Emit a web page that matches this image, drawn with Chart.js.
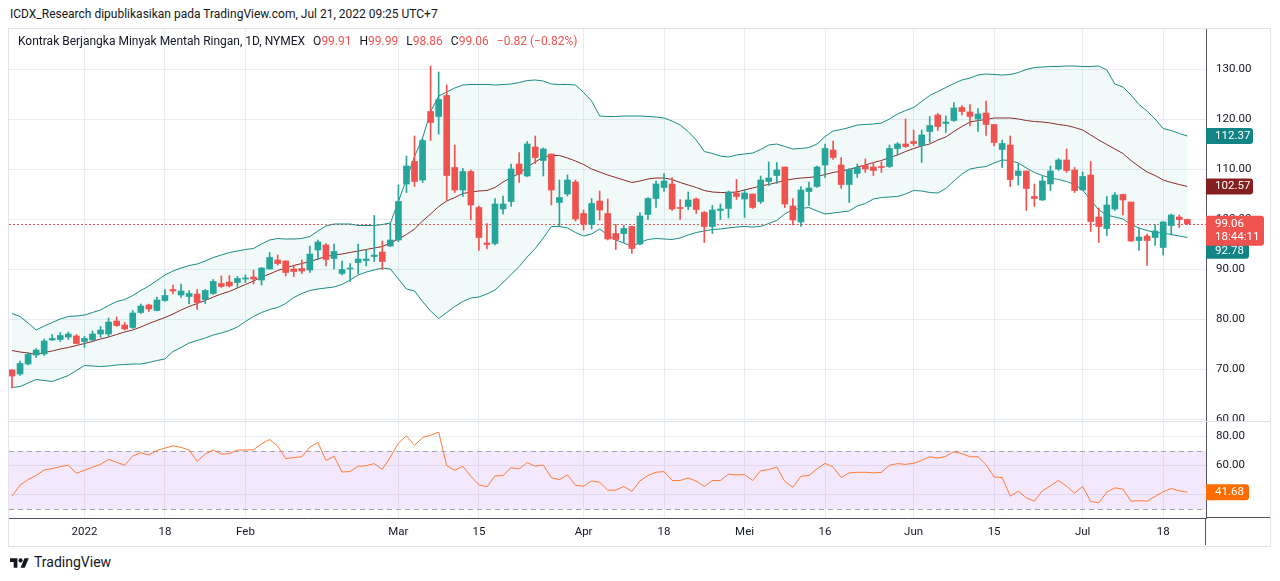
<!DOCTYPE html>
<html>
<head>
<meta charset="utf-8">
<title>Kontrak Berjangka Minyak Mentah Ringan, 1D, NYMEX</title>
<script src="https://cdn.jsdelivr.net/npm/chart.js@4.4.1/dist/chart.umd.min.js"></script>
<style>
  html, body { margin: 0; padding: 0; background: #fff; }
  body { width: 1280px; height: 581px; position: relative; overflow: hidden;
         font-family: Roboto, "Noto Sans", sans-serif; color: #131722; }
  #top { position: absolute; left: 10px; top: 7px; font-size: 12px; white-space: nowrap; }
  #frame { position: absolute; left: 8px; top: 28px; width: 1263px; height: 519px;
           box-sizing: border-box; border: 1px solid #e0e3eb; }
  #wrap { position: absolute; left: 9px; top: 29px; width: 1261px; height: 516px; }
  #legend { position: absolute; left: 18px; top: 34px; font-size: 12px; white-space: nowrap; }
  #legend .v { color: #ef5350; }
  #legend .k { margin-left: 8px; }
  #foot { position: absolute; left: 10px; top: 554px; font-size: 14px; display: flex; align-items: center; }
  #foot svg { margin-right: 5px; }
</style>
</head>
<body>
<div id="top">ICDX_Research dipublikasikan pada TradingView.com, Jul 21, 2022 09:25 UTC+7</div>
<div id="frame"></div>
<div id="wrap"><canvas id="chart" width="1261" height="516"></canvas></div>
<div id="legend"></div>
<div id="foot">
  <svg width="19" height="13" viewBox="0 0 36 24"><path fill="#131722" d="M14 22H7V11H0V4h14v18zM28 22h-8l7.5-18h8L28 22z"/><circle fill="#131722" cx="20" cy="8" r="4"/></svg>
  <span>TradingView</span>
</div>

<script>
const UP = '#26a69a', DOWN = '#ef5350';

// daily candles, 20 Dec 2021 .. 21 Jul 2022 (index = trading day)
const opens = [69.8,69.0,71.0,72.8,73.0,75.8,75.9,76.4,76.6,75.5,
  75.8,77.0,77.0,79.6,78.8,78.3,81.3,82.8,81.7,83.7,
  85.9,84.8,84.5,85.0,83.9,85.1,87.1,87.4,87.3,88.0,
  88.4,87.8,90.0,91.8,91.6,90.0,90.1,89.8,93.8,94.8,
  92.1,89.1,90.0,91.3,91.7,92.5,93.4,94.6,95.8,107.0,
  111.5,107.8,121.5,120.5,124.7,110.3,105.8,109.5,102.3,95.2,
  95.1,102.0,103.5,111.0,108.6,114.4,111.7,113.0,103.3,105.0,
  107.4,101.1,98.9,103.6,101.1,97.1,97.1,98.5,95.0,100.9,
  104.1,106.3,107.0,102.3,102.5,104.0,101.3,98.5,101.7,102.1,
  105.2,104.0,105.0,103.5,107.5,108.7,110.4,102.6,99.4,105.5,
  106.5,110.8,113.8,110.8,106.9,109.1,110.7,110.4,110.4,110.5,
  114.1,115.0,115.5,114.7,117.5,120.8,119.1,119.7,122.3,121.4,
  120.0,121.2,118.9,113.9,114.8,108.7,109.6,104.5,103.8,107.0,
  110.0,111.8,109.8,105.8,108.8,100.4,98.1,102.0,104.9,103.4,
  95.7,96.6,96.3,94.3,98.7,100.4,99.91];
const highs = [69.9,71.6,73.3,74.1,76.0,76.9,77.3,77.4,76.9,76.5,
  77.6,78.5,80.2,80.4,79.3,81.7,83.0,83.0,84.4,85.9,
  86.8,87.0,85.7,85.9,85.9,87.9,88.6,88.7,88.5,88.8,
  89.8,90.3,93.3,92.8,91.6,90.8,91.8,94.6,95.8,95.1,
  95.0,91.6,91.1,95.0,93.8,100.7,95.6,99.1,106.8,112.6,
  116.6,116.0,130.6,129.4,126.8,114.8,110.1,109.8,102.6,99.1,
  104.1,104.6,111.0,113.3,115.5,116.6,114.2,113.0,107.8,108.8,
  107.8,101.8,104.1,105.6,104.0,98.9,98.7,98.6,101.3,104.3,
  107.6,109.1,108.3,103.9,105.4,104.2,101.5,102.7,103.0,105.6,
  107.9,105.9,105.0,108.6,111.4,111.3,110.4,104.1,106.5,107.4,
  110.6,115.0,115.6,112.3,110.1,111.0,112.0,111.3,111.4,114.8,
  115.3,120.0,117.8,117.8,120.5,121.1,120.6,123.3,122.7,122.9,
  122.1,123.6,118.9,115.8,116.6,111.1,109.6,107.0,108.5,110.6,
  112.1,114.0,110.3,109.4,111.5,102.2,104.5,105.3,105.0,103.4,
  98.1,97.0,98.9,99.5,101.0,100.8,99.99];
const lows = [66.2,68.7,70.8,72.3,72.7,75.7,75.5,75.9,75.0,74.3,
  75.6,76.3,76.5,78.5,77.8,78.1,81.1,81.5,81.6,83.5,
  85.0,84.3,83.0,81.9,83.1,84.9,86.3,86.4,86.3,87.3,
  87.0,86.8,90.0,90.8,88.6,88.5,89.1,89.3,91.8,90.6,
  90.0,88.8,87.5,89.0,90.6,91.5,89.9,94.5,95.5,105.3,
  106.5,107.3,115.7,117.0,103.7,105.3,104.5,99.8,93.7,94.0,
  94.8,101.0,102.5,107.3,108.5,111.1,108.6,102.8,98.5,104.6,
  99.6,97.8,98.0,99.8,95.8,93.9,95.3,93.1,94.8,99.9,
  102.3,105.5,101.7,99.9,101.9,101.1,95.3,97.1,99.9,100.2,
  103.9,100.3,102.1,103.1,106.7,107.1,102.3,98.8,98.5,102.7,
  106.3,108.3,111.9,106.1,103.3,108.3,109.3,108.7,109.3,110.3,
  112.8,114.3,114.7,111.3,115.3,117.7,117.3,119.5,120.8,118.6,
  117.5,116.7,114.6,110.3,106.5,106.8,101.7,102.5,103.7,105.7,
  109.7,109.3,105.3,105.7,97.5,95.3,96.7,101.7,100.8,95.5,
  93.7,90.7,94.7,92.8,96.8,98.3,98.86];
const closes = [68.6,71.1,72.9,73.8,75.6,76.1,76.7,77.0,75.1,76.1,
  77.0,77.8,79.4,78.7,78.0,81.2,82.6,82.0,83.8,84.7,
  85.6,85.6,85.1,83.3,85.7,87.5,86.5,86.6,88.1,88.2,
  88.0,90.2,92.3,91.1,89.3,89.5,89.6,93.0,95.4,91.9,
  93.5,89.9,90.2,92.0,92.0,92.8,91.5,95.8,103.5,110.6,
  107.5,115.7,119.3,123.9,108.7,105.8,109.5,102.8,96.3,94.9,
  103.0,103.0,110.0,109.0,115.0,112.3,114.0,105.8,104.3,107.8,
  100.0,99.0,103.1,101.8,96.0,95.9,98.1,94.1,100.6,104.1,
  107.0,107.6,102.0,102.1,103.8,101.9,98.5,101.8,102.0,105.4,
  104.5,105.2,102.3,107.8,108.2,109.8,103.0,99.8,105.8,106.2,
  110.4,114.1,112.3,106.9,109.9,110.3,110.0,109.7,110.3,114.1,
  115.0,114.5,115.1,116.8,118.7,118.5,119.4,122.2,121.5,120.5,
  121.0,118.9,115.3,115.1,107.9,109.6,106.1,104.1,107.6,109.6,
  111.8,109.7,105.7,108.5,99.5,98.5,102.8,104.8,103.8,95.6,
  96.4,95.7,97.6,99.4,100.8,99.88,99.06];

// Bollinger bands
const bbUpper = [81.1,80.5,79.2,77.8,78.6,79.3,80.0,80.5,80.6,80.8,
  81.3,81.8,82.7,83.5,83.9,84.7,85.7,86.6,87.7,88.8,
  89.6,90.2,90.7,91.0,91.6,92.3,92.8,93.3,93.6,93.9,
  94.1,95.0,95.8,96.1,96.0,96.0,96.1,96.5,97.6,98.6,
  99.0,99.0,99.0,98.7,98.7,98.7,98.9,99.2,103.5,108.0,
  112.5,116.2,121.5,124.6,125.4,126.2,126.8,126.9,126.9,126.9,
  126.8,126.9,127.0,127.3,127.7,127.8,127.6,127.0,126.9,126.9,
  126.8,125.3,123.6,120.6,120.5,120.5,120.6,120.6,120.6,120.5,
  120.4,120.2,119.6,118.8,117.5,115.8,113.5,113.1,112.6,112.4,
  112.8,113.0,113.2,113.9,114.8,115.0,114.5,114.0,114.1,114.3,
  115.0,116.5,117.6,117.9,118.3,118.8,118.9,119.0,119.2,120.0,
  121.0,121.7,122.3,123.5,124.7,125.5,126.3,127.1,127.8,128.2,
  128.8,129.0,128.9,128.8,128.9,129.3,129.9,130.3,130.4,130.5,
  130.5,130.6,130.6,130.5,130.5,130.6,129.8,127.0,126.4,124.8,
  122.9,121.6,120.0,118.1,117.7,117.1,116.6];
const bbBasis = [73.7,73.4,73.2,72.9,73.3,73.6,74.0,74.3,74.7,75.1,
  75.5,76.0,76.4,76.9,77.4,77.8,78.4,79.1,79.7,80.3,
  81.0,81.8,82.5,83.1,83.7,84.4,85.0,85.5,86.2,86.9,
  87.6,88.4,89.0,89.7,90.2,90.7,91.1,91.5,92.0,92.5,
  92.8,93.0,93.3,93.6,93.9,94.2,94.5,95.2,96.0,96.9,
  98.0,99.6,101.0,102.5,103.6,104.3,105.1,105.4,105.6,105.7,
  106.3,107.4,108.3,109.1,110.4,111.4,112.4,112.7,112.7,112.2,
  111.6,110.9,110.0,109.4,108.8,108.3,107.8,107.3,107.6,108.0,
  108.2,108.2,107.9,107.3,106.8,106.3,105.7,105.4,105.3,105.3,
  105.4,105.8,106.2,106.6,106.9,107.3,107.7,108.0,108.2,108.3,
  108.5,108.9,109.3,109.6,109.9,110.4,110.8,111.3,111.7,112.3,
  112.8,113.5,114.1,114.6,115.0,115.8,116.4,117.5,118.5,119.4,
  119.7,119.9,120.2,120.2,120.2,120.0,119.7,119.5,119.4,119.2,
  118.9,118.7,118.3,117.8,116.8,115.8,114.9,114.0,113.1,111.7,
  110.5,109.4,108.7,107.8,107.3,106.9,106.5];
const bbLower = [66.3,66.5,67.2,67.9,67.7,67.5,68.1,68.7,69.7,70.7,
  70.6,70.5,70.6,70.8,70.9,71.0,71.0,71.3,71.7,72.0,
  73.5,74.3,75.2,75.7,76.2,76.8,77.2,77.7,78.4,79.5,
  80.5,81.3,81.9,82.3,83.1,84.3,85.1,85.7,86.0,86.2,
  86.4,86.9,87.8,88.8,89.4,89.8,90.2,90.0,88.0,86.0,
  85.6,83.5,81.6,80.1,81.3,82.5,83.5,84.2,84.4,85.0,
  85.8,87.3,88.9,90.5,92.4,94.1,96.2,98.5,98.5,98.2,
  97.3,96.6,97.0,98.0,96.8,95.8,95.2,94.5,95.3,95.9,
  96.1,96.0,95.9,96.2,96.8,97.3,97.6,97.9,98.0,98.2,
  98.4,98.5,98.4,98.5,99.1,99.7,101.0,101.9,102.1,102.3,
  101.6,101.0,101.2,101.4,101.6,102.6,103.1,104.0,104.3,104.4,
  104.5,105.0,105.7,105.6,105.3,105.2,106.1,107.6,109.0,110.0,
  110.3,110.5,111.2,111.8,111.7,111.2,110.2,109.3,108.7,108.2,
  107.9,107.5,106.9,105.8,103.8,101.8,100.8,100.4,100.0,98.9,
  98.2,97.7,97.3,97.2,96.9,96.6,96.3];

const rsi = [39.0,46.5,50.3,53.1,56.9,57.8,59.2,60.1,54.6,56.7,
  58.7,60.7,64.1,62.1,60.1,66.4,68.6,67.1,70.2,71.8,
  73.4,72.3,70.5,62.8,67.7,70.5,67.7,68.0,70.5,70.5,
  70.7,74.7,77.7,73.2,64.6,65.3,65.9,72.5,75.6,63.4,
  66.2,55.5,55.8,59.4,59.8,61.2,57.3,65.7,75.2,80.2,
  73.6,79.1,80.6,82.7,59.8,56.7,59.4,52.6,46.7,45.4,
  52.8,53.1,58.5,57.6,61.9,59.4,60.3,51.6,50.3,53.5,
  46.5,45.8,49.4,48.5,43.1,43.1,45.6,42.2,49.4,53.1,
  55.3,55.8,49.7,49.7,51.5,49.2,45.6,49.7,49.7,54.0,
  53.5,53.7,49.7,56.4,57.1,58.9,49.0,45.1,52.6,53.1,
  57.6,61.4,58.9,51.7,54.9,55.3,55.3,54.9,55.3,60.1,
  61.2,60.7,61.4,63.4,65.9,65.0,66.2,69.3,68.0,65.9,
  65.9,60.5,52.1,51.7,39.0,42.4,37.9,35.6,42.7,46.0,
  49.7,45.8,41.1,45.6,35.4,34.5,41.8,44.7,43.8,35.6,
  35.9,35.6,38.8,42.0,44.2,42.7,41.68];

const dateTickIdx = [9, 19, 29, 48, 58, 71, 81, 91, 101, 112, 122, 133, 143];
const dateTickText = ['2022', '18', 'Feb', 'Mar', '15', 'Apr', '18', 'Mei', '16', 'Jun', '15', 'Jul', '18'];
const priceTicks = [60, 70, 80, 90, 100, 110, 120, 130];
const rsiTicks = [40, 60, 80];
const rsiBand = [70, 30];
const bbTags = ['112.37', '102.57', '92.78'];
const countdown = '18:44:11';

const last = closes.length - 1;
const idx = closes.map((c, i) => i);
const candleColor = idx.map(i => closes[i] >= opens[i] ? UP : DOWN);

function fmt(v) { return v.toFixed(2).replace('-', '\u2212'); }

// legend line
(function () {
  var chg = closes[last] - closes[last - 1];
  var pct = chg / closes[last - 1] * 100;
  var html = '<span>Kontrak Berjangka Minyak Mentah Ringan, 1D, NYMEX</span>';
  html += '<span class="k">O</span><span class="v">' + fmt(opens[last]) + '</span>';
  html += '<span class="k">H</span><span class="v">' + fmt(highs[last]) + '</span>';
  html += '<span class="k">L</span><span class="v">' + fmt(lows[last]) + '</span>';
  html += '<span class="k">C</span><span class="v">' + fmt(closes[last]) + '</span>';
  html += '<span class="k v">' + fmt(chg) + ' (' + fmt(pct) + '%)</span>';
  document.getElementById('legend').innerHTML = html;
})();

function tag(c, x, yc, w, h, bg, lines) {
  c.fillStyle = bg;
  c.beginPath();
  c.roundRect(x, yc - h / 2, w, h, [0, 3, 3, 0]);
  c.fill();
  c.fillStyle = '#fff';
  c.textBaseline = 'middle';
  c.textAlign = 'left';
  c.font = '11.5px Roboto';
  lines.forEach((t, k) => c.fillText(t, x + 9, yc - (lines.length - 1) * 6.5 + k * 13));
}

const panes = {
  id: 'panes',
  beforeDatasetsDraw(chart) {
    const c = chart.ctx, a = chart.chartArea, r = chart.scales.yRsi, y = chart.scales.y;
    const t = r.getPixelForValue(rsiBand[0]), b = r.getPixelForValue(rsiBand[1]);
    c.save();
    c.fillStyle = 'rgba(180,100,240,0.15)';
    c.fillRect(a.left, t, a.right - a.left, b - t);
    c.strokeStyle = '#a3a6af';
    c.lineWidth = 1;
    c.setLineDash([5, 4]);
    rsiBand.forEach(v => {
      const py = Math.round(r.getPixelForValue(v)) + 0.5;
      c.beginPath(); c.moveTo(a.left, py); c.lineTo(a.right, py); c.stroke();
    });
    // last price
    const py = Math.round(y.getPixelForValue(closes[last])) + 0.5;
    c.strokeStyle = DOWN;
    c.setLineDash([2, 2]);
    c.beginPath(); c.moveTo(a.left, py); c.lineTo(a.right, py); c.stroke();
    c.restore();
  },
  afterDraw(chart) {
    const c = chart.ctx, a = chart.chartArea, r = chart.scales.yRsi, y = chart.scales.y;
    c.save();
    // pane separator
    c.fillStyle = '#fff';
    c.fillRect(a.right + 1, y.bottom, chart.width - a.right, 7);
    c.fillStyle = '#e0e3eb';
    c.fillRect(0, y.bottom, chart.width, 1);
    // axis lines into the corner
    c.fillStyle = '#50535e';
    c.fillRect(Math.round(a.right) - 1, a.bottom, 1, chart.height - a.bottom);
    c.fillRect(a.right, Math.round(a.bottom) - 1, chart.width - a.right, 1);

    const yU = y.getPixelForValue(bbUpper[last]);
    const yB = y.getPixelForValue(bbBasis[last]);
    const yC = y.getPixelForValue(closes[last]);
    const cTop = yC - 8, cH = 30;
    const yL = Math.max(y.getPixelForValue(bbLower[last]), cTop + cH + 5);
    tag(c, a.right, yU, 47, 16, '#138484', [bbTags[0]]);
    tag(c, a.right, yB, 47, 16, '#86201f', [bbTags[1]]);
    tag(c, a.right, yL, 43, 16, '#138484', [bbTags[2]]);
    tag(c, a.right, cTop + cH / 2, 58, cH, DOWN, [fmt(closes[last]), countdown]);
    tag(c, a.right, r.getPixelForValue(rsi[last]), 43, 16, '#ff6d00', [fmt(rsi[last])]);
    c.restore();
  }
};

const gridColor = '#e8edf2';
const tickFont = { family: 'Roboto', size: 11.5 };

new Chart(document.getElementById('chart'), {
  data: {
    datasets: [
      { type: 'line', label: 'BB upper', data: idx.map(i => ({ x: i, y: bbUpper[i] })),
        borderColor: '#1b8a84', borderWidth: 1, pointRadius: 0, order: 5, yAxisID: 'y' },
      { type: 'line', label: 'BB lower', data: idx.map(i => ({ x: i, y: bbLower[i] })),
        borderColor: '#1b8a84', borderWidth: 1, pointRadius: 0, order: 5, yAxisID: 'y',
        fill: '-1', backgroundColor: 'rgba(38,166,154,0.06)' },
      { type: 'line', label: 'BB basis', data: idx.map(i => ({ x: i, y: bbBasis[i] })),
        borderColor: '#8b2a2a', borderWidth: 1, pointRadius: 0, order: 4, yAxisID: 'y' },
      { type: 'bar', label: 'wick', data: idx.map(i => ({ x: i, y: [lows[i], highs[i]] })),
        backgroundColor: candleColor, barThickness: 1, grouped: false, order: 2, yAxisID: 'y' },
      { type: 'bar', label: 'body', data: idx.map(i => ({ x: i, y: [opens[i], closes[i]] })),
        backgroundColor: candleColor, barThickness: 6, minBarLength: 1, grouped: false, order: 1, yAxisID: 'y' },
      { type: 'line', label: 'RSI', data: idx.map(i => ({ x: i, y: rsi[i] })),
        borderColor: '#ff7b33', borderWidth: 1, pointRadius: 0, order: 1, yAxisID: 'yRsi' }
    ]
  },
  options: {
    responsive: false,
    animation: false,
    layout: { padding: 0 },
    plugins: { legend: { display: false }, tooltip: { enabled: false } },
    scales: {
      x: {
        type: 'linear', min: -0.373, max: 148.32, offset: false,
        afterBuildTicks: s => { s.ticks = dateTickIdx.map(v => ({ value: v })); },
        afterFit: s => { s.height = 27; s.paddingLeft = 0; s.paddingRight = 0; },
        ticks: { autoSkip: false, maxRotation: 0, padding: 7, color: '#131722', font: tickFont,
                 callback: (v, i) => dateTickText[i] },
        grid: { color: gridColor, drawTicks: false, offset: false },
        border: { color: '#50535e' }
      },
      y: {
        type: 'linear', axis: 'y', position: 'right', stack: 'pane', stackWeight: 392,
        min: 59.6, max: 138, beginAtZero: false,
        afterBuildTicks: s => { s.ticks = priceTicks.map(v => ({ value: v })); },
        afterFit: s => { s.width = 64; s.paddingTop = 0; s.paddingBottom = 0; },
        ticks: { padding: 10, color: '#131722', font: tickFont, callback: v => v.toFixed(2) },
        grid: { color: gridColor, drawTicks: false },
        border: { color: '#50535e' }
      },
      yRsi: {
        type: 'linear', axis: 'y', position: 'right', stack: 'pane', stackWeight: 97,
        min: 24.1, max: 90.3, beginAtZero: false,
        afterBuildTicks: s => { s.ticks = rsiTicks.map(v => ({ value: v })); },
        afterFit: s => { s.width = 64; s.paddingTop = 0; s.paddingBottom = 0; },
        ticks: { padding: 10, color: '#131722', font: tickFont, callback: v => v.toFixed(2) },
        grid: { color: gridColor, drawTicks: false },
        border: { color: '#50535e' }
      }
    }
  },
  plugins: [panes]
});
</script>
</body>
</html>
